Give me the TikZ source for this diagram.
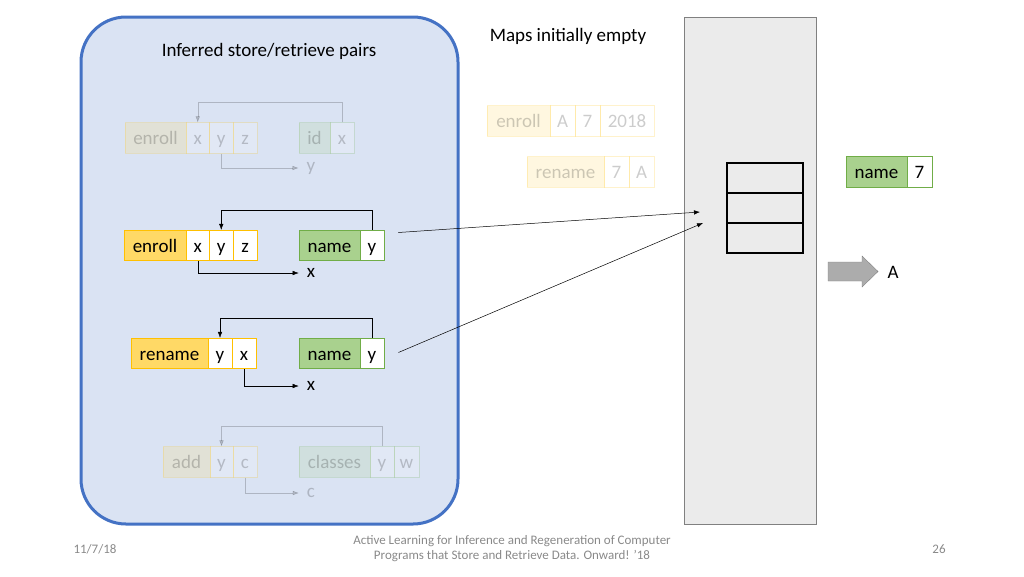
\documentclass[tikz,border=0pt]{standalone}
\usepackage{fontspec}
\setmainfont{Carlito}
\usetikzlibrary{arrows.meta}
\definecolor{panelfill}{HTML}{DAE3F3}
\definecolor{panelline}{HTML}{4472C4}
\definecolor{keyfill}{HTML}{FFD966}
\definecolor{keyline}{HTML}{FFC000}
\definecolor{namefill}{HTML}{A9D18E}
\definecolor{nameline}{HTML}{70AD47}
\definecolor{memfill}{HTML}{EBEBEB}
\definecolor{footgray}{HTML}{898989}
\begin{document}
\begin{tikzpicture}[
      x=1pt,y=-1pt,
      >={Latex[length=6pt,width=4.5pt]},
      txt/.style={font=\fontsize{19}{23}\selectfont},
      cell/.style={txt,inner sep=0pt,minimum height=30.5,
        text height=15,text depth=2,line width=0.8pt},
      opkey/.style={cell,draw=keyline,fill=keyfill},
      opvar/.style={cell,draw=keyline,fill=white},
      mapkey/.style={cell,draw=nameline,fill=namefill},
      mapvar/.style={cell,draw=nameline,fill=white},
      outvar/.style={txt,inner xsep=8pt,inner ysep=0pt},
      slot/.style={draw,line width=2.5pt,minimum width=76,minimum height=30,inner sep=0pt},
      foot/.style={font=\fontsize{13}{15}\selectfont,text=footgray},
    ]
    \useasboundingbox (0,0) rectangle (1024,576);
    % panel and memory
    \draw[fill=panelfill,draw=panelline,line width=3pt,rounded corners=45]
      (81,17) rectangle (458,524);
    \draw[fill=memfill,draw=gray] (684,17) rectangle (816,524);
    \node[txt] (ttl) at (269,51) {Inferred store/retrieve pairs};
    \node[txt] (mapttl) at (568,36) {Maps initially empty};
    % row 1 (faded)
    \begin{scope}[opacity=0.2]
      \node[opkey,minimum width=61] (e1) at (155.5,138) {enroll};
      \node[opvar,minimum width=23.5] (e1x) at (197.75,138) {x};
      \node[opvar,minimum width=23.5] (e1y) at (221.25,138) {y};
      \node[opvar,minimum width=24] (e1z) at (245,138) {z};
      \node[mapkey,minimum width=31] (i1) at (314.5,138) {id};
      \node[mapvar,minimum width=24] (i1x) at (342,138) {x};
      \node[outvar] (o1) at (311,168) {y};
      \draw[->] (i1x.north) -- ++(0,-20) -| (e1x.north);
      \draw[->] (e1y.south) |- (o1.west);
    \end{scope}
    % row 2
    \node[opkey,minimum width=62] (e2) at (155,245.5) {enroll};
    \node[opvar,minimum width=23.5] (e2x) at (197.75,245.5) {x};
    \node[opvar,minimum width=23.5] (e2y) at (221.25,245.5) {y};
    \node[opvar,minimum width=24] (e2z) at (245,245.5) {z};
    \node[mapkey,minimum width=61] (n2) at (329.5,245.5) {name};
    \node[mapvar,minimum width=24] (n2y) at (372,245.5) {y};
    \node[outvar] (o2) at (311,273) {x};
    \draw[->] (n2y.north) -- ++(0,-20) -| (e2y.north);
    \draw[->] (e2x.south) |- (o2.west);
    % row 3
    \node[opkey,minimum width=77] (r3) at (169.5,353.5) {rename};
    \node[opvar,minimum width=24] (r3y) at (220,353.5) {y};
    \node[opvar,minimum width=24] (r3x) at (244,353.5) {x};
    \node[mapkey,minimum width=61] (n3) at (329.5,353.5) {name};
    \node[mapvar,minimum width=24] (n3y) at (372,353.5) {y};
    \node[outvar] (o3) at (311,386) {x};
    \draw[->] (n3y.north) -- ++(0,-20) -| (r3y.north);
    \draw[->] (r3x.south) |- (o3.west);
    % row 4 (faded)
    \begin{scope}[opacity=0.2]
      \node[opkey,minimum width=47] (a4) at (186.5,462) {add};
      \node[opvar,minimum width=23] (a4y) at (221.5,462) {y};
      \node[opvar,minimum width=24] (a4c) at (245,462) {c};
      \node[mapkey,minimum width=71] (c4) at (334.5,462) {classes};
      \node[mapvar,minimum width=24] (c4y) at (382,462) {y};
      \node[mapvar,minimum width=25] (c4w) at (406.5,462) {w};
      \node[outvar] (o4) at (311,493) {c};
      \draw[->] (c4y.north) -- ++(0,-20) -| (a4y.north);
      \draw[->] (a4c.south) |- (o4.west);
    \end{scope}
    % input calls (faded)
    \begin{scope}[opacity=0.2]
      \node[opkey,minimum width=63] (f1) at (518.5,121) {enroll};
      \node[opvar,minimum width=25] (f1a) at (562.5,121) {A};
      \node[opvar,minimum width=25] (f1b) at (587.5,121) {7};
      \node[opvar,minimum width=54] (f1c) at (627,121) {2018};
      \node[opkey,minimum width=77] (f2) at (565.5,172) {rename};
      \node[opvar,minimum width=25] (f2a) at (616.5,172) {7};
      \node[opvar,minimum width=25] (f2b) at (641.5,172) {A};
    \end{scope}
    % memory slots
    \node[slot] (s1) at (765,178) {};
    \node[slot] (s2) at (765,208) {};
    \node[slot] (s3) at (765,238) {};
    \coordinate (t1) at (700,212);
    \coordinate (t2) at (703,223);
    \draw[->,line width=0.5pt] ([shift={(14,-13)}]n2y.east) -- (t1);
    \draw[->,line width=0.5pt] ([shift={(14,-1)}]n3y.east) -- (t2);
    % map entry and result
    \node[mapkey,minimum width=61] (nm) at (876.5,172) {name};
    \node[mapvar,minimum width=25] (nm7) at (919.5,172) {7};
    \draw[fill=gray!65,draw=gray] (828,262) -- (862,262) -- (862,256)
      -- (878,271.5) -- (862,287) -- (862,281) -- (828,281) -- cycle;
    \node[txt] (res) at (893,272) {A};
    % footer
    \node[foot] (date) at (95,549) {11/7/18};
    \node[foot,align=center] (cite) at (512,549)
      {Active Learning for Inference and Regeneration of Computer\\
       Programs that Store and Retrieve Data. Onward! '18};
    \node[foot] (page) at (939,549) {26};
  \end{tikzpicture}
\end{document}
